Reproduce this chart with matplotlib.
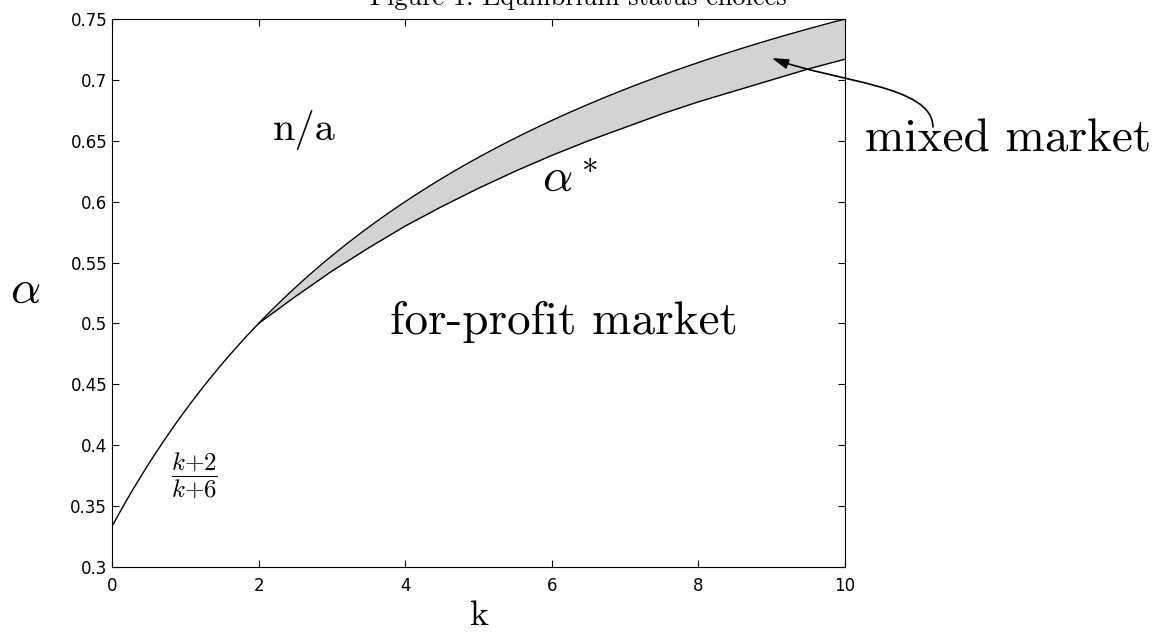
import numpy as np
import matplotlib
matplotlib.use("Agg")
import matplotlib.pyplot as plt
from matplotlib.path import Path
from matplotlib.patches import FancyArrowPatch

plt.rcParams['mathtext.fontset'] = 'cm'
plt.rcParams['font.family'] = 'DejaVu Sans'

# equilibrium threshold alpha* along k
k_star = [2.0, 2.5, 3.0, 3.5, 4.0, 4.5, 5.0, 5.5, 6.0, 6.5, 7.0, 7.5, 8.0, 8.5, 9.0, 9.5, 10.0]
alpha_star = [0.500, 0.522, 0.543, 0.562, 0.580, 0.596, 0.611, 0.625, 0.638,
              0.650, 0.661, 0.672, 0.682, 0.691, 0.700, 0.709, 0.717]

x_ticks = [0, 2, 4, 6, 8, 10]
y_ticks = [0.3, 0.35, 0.4, 0.45, 0.5, 0.55, 0.6, 0.65, 0.7, 0.75]
y_tick_labels = ['0.3', '0.35', '0.4', '0.45', '0.5', '0.55', '0.6', '0.65', '0.7', '0.75']

CM = 'cmr10'

def upper_bound(k):
    # the (k+2)/(k+6) boundary
    k = np.asarray(k, dtype=float)
    return (k + 2) / (k + 6)

fig = plt.figure(figsize=(11.57, 6.34), dpi=100)
ax = fig.add_axes([0.0968, 0.1057, 0.6335, 0.8643])

k_line = np.linspace(0, 10, 401)
ax.plot(k_line, upper_bound(k_line), color='black', lw=1)
ax.plot(k_star, alpha_star, color='black', lw=1)
ax.fill_between(k_star, alpha_star, upper_bound(k_star), color='#d3d3d3', lw=0)

ax.set_xlim(0, 10)
ax.set_ylim(0.3, 0.75)
ax.set_xticks(x_ticks)
ax.set_yticks(y_ticks)
ax.set_yticklabels(y_tick_labels)
ax.tick_params(direction='in', top=True, right=True, length=5, labelsize=12)
ax.tick_params(axis='x', pad=7)

ax.set_xlabel('k', family=CM, fontsize=26, labelpad=4)
fig.text(0.0216, 0.5426, r'$\alpha$', fontsize=34, ha='center', va='center')

ax.text(2.62, 0.659, 'n/a', family=CM, fontsize=29, ha='center', va='center')
ax.text(6.25, 0.619, r'$\alpha^*$', fontsize=34, ha='center', va='center')
ax.text(6.17, 0.501, 'for-profit market', family=CM, fontsize=34, ha='center', va='center')
ax.text(1.12, 0.3748, r'$\dfrac{k{+}2}{k{+}6}$', fontsize=18, ha='center', va='center')

# label outside the axes with a curved pointer into the shaded band
ax.text(12.22, 0.651, 'mixed market', family=CM, fontsize=34,
        ha='center', va='center', clip_on=False)
pointer = Path([(11.20, 0.6613), (11.20, 0.6958), (9.864, 0.6983), (9.00, 0.718)],
               [Path.MOVETO, Path.CURVE4, Path.CURVE4, Path.CURVE4])
ax.add_patch(FancyArrowPatch(path=pointer, arrowstyle='-|>,head_length=0.5,head_width=0.15',
                             mutation_scale=20, color='black', lw=1.2,
                             transform=ax.transData, clip_on=False))

fig.text(0.5, 0.992, 'Figure 1: Equilibrium status choices', family=CM,
         fontsize=19, ha='center', va='baseline')

fig.savefig('out.png', dpi=100)
